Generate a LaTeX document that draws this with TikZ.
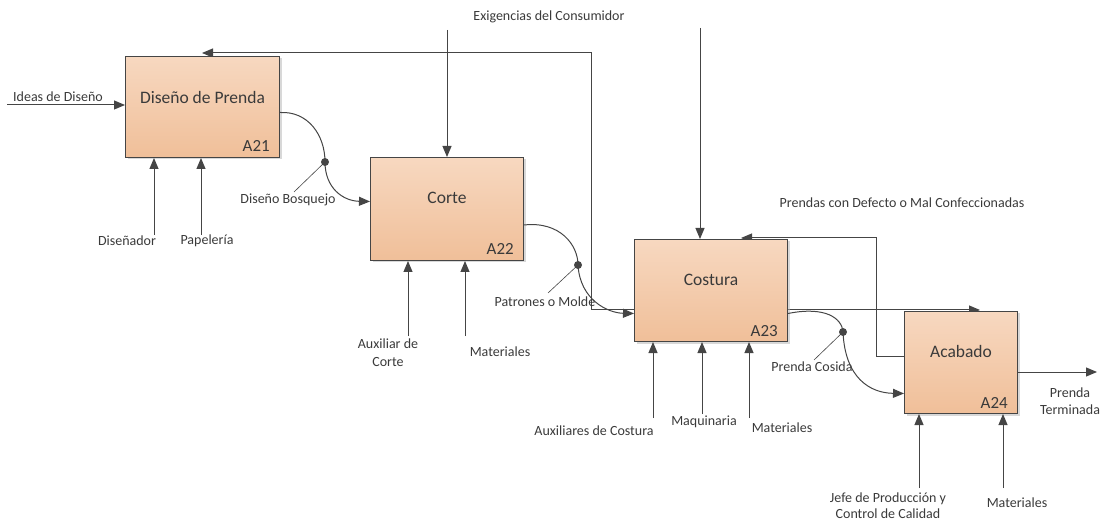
\documentclass[tikz,border=0pt]{standalone}
\usepackage{fontspec}
\setmainfont{Carlito}
\usetikzlibrary{arrows.meta,shadows}
\definecolor{boxtop}{HTML}{F7D8C0}
\definecolor{boxbot}{HTML}{F0BF99}
\definecolor{ln}{HTML}{454545}
\definecolor{txt}{HTML}{3A3A3A}
\pgfdeclarelayer{bg}
\pgfsetlayers{bg,main}
\begin{document}
\begin{tikzpicture}[x=1pt,y=-1pt,
  box/.style={draw=ln, line width=1pt, top color=boxtop, bottom color=boxbot,
    anchor=north west, inner sep=0pt,
    drop shadow={shadow xshift=2pt, shadow yshift=-2pt, fill=black!30, opacity=0.5}},
  ttl/.style={font=\fontsize{17.5}{20}\selectfont, text=txt, inner sep=0pt},
  idl/.style={font=\fontsize{17}{20}\selectfont, text=txt, inner sep=0pt, anchor=base east},
  lbl/.style={font=\fontsize{14}{17}\selectfont, text=txt, inner sep=0pt, align=center},
  arr/.style={draw=ln, line width=1pt, -{Triangle[length=11pt,width=9pt]}},
  lead/.style={draw=ln, line width=0.6pt},
  dotn/.style={circle, fill=ln, inner sep=0pt, minimum size=8pt}]
\useasboundingbox (0,0) rectangle (1103,521);

% boxes
\node[box, minimum width=154pt, minimum height=101pt] (a21) at (125,56) {};
\node[box, minimum width=153pt, minimum height=103pt] (a22) at (370,157) {};
\node[box, minimum width=153pt, minimum height=102pt] (a23) at (634,239) {};
\node[box, minimum width=113pt, minimum height=102pt] (a24) at (904,311) {};

% titles
\node[ttl] (t21) at ([yshift=-41pt]a21.north) {Diseño de Prenda};
\node[ttl] (t22) at ([yshift=-41pt]a22.north) {Corte};
\node[ttl] (t23) at ([yshift=-41pt]a23.north) {Costura};
\node[ttl] (t24) at ([yshift=-40pt]a24.north) {Acabado};
\node[idl] (i21) at ([xshift=-10pt,yshift=6pt]a21.south east) {A21};
\node[idl] (i22) at ([xshift=-10pt,yshift=6pt]a22.south east) {A22};
\node[idl] (i23) at ([xshift=-10pt,yshift=6pt]a23.south east) {A23};
\node[idl] (i24) at ([xshift=-10pt,yshift=6pt]a24.south east) {A24};

% labels
\node[lbl] (lIdeas) at (58,97) {Ideas de Diseño};
\node[lbl] (lExig) at (549,17) {Exigencias del Consumidor};
\node[lbl] (lBosq) at (288,200) {Diseño Bosquejo};
\node[lbl] (lDis) at (127,241) {Diseñador};
\node[lbl] (lPap) at (207,241) {Papelería};
\node[lbl] (lPat) at (545,302) {Patrones o Molde};
\node[lbl, font=\fontsize{14}{18}\selectfont] (lAux) at (388,353) {Auxiliar de\\Corte};
\node[lbl] (lMat1) at (500,352) {Materiales};
\node[lbl] (lDef) at (902,203) {Prendas con Defecto o Mal Confeccionadas};
\node[lbl] (lAuxC) at (594,431) {Auxiliares de Costura};
\node[lbl] (lMaq) at (704,422) {Maquinaria};
\node[lbl] (lMat2) at (782,428) {Materiales};
\node[lbl] (lCos) at (812,367) {Prenda Cosida};
\node[lbl, font=\fontsize{14}{16}\selectfont] (lJefe) at (888,506) {Jefe de Producción y\\Control de Calidad};
\node[lbl] (lMat3) at (1017,503) {Materiales};
\node[lbl, font=\fontsize{14}{17}\selectfont] (lTerm) at (1070,401) {Prenda\\Terminada};

% dots
\node[dotn] (d1) at (325,162) {};
\node[dotn] (d2) at (578,265) {};
\node[dotn] (d3) at (843,332) {};

% coordinates
\coordinate (cIn) at (7,105);
\coordinate (cEx) at (447,30);
\coordinate (cCo) at (700,28);
\coordinate (m1) at (154,235);
\coordinate (m2) at (201,235);
\coordinate (m3) at (408,336);
\coordinate (m4) at (465,336);
\coordinate (m5) at (653,418);
\coordinate (m6) at (702,414);
\coordinate (m7) at (749,418);
\coordinate (m8) at (919,488);
\coordinate (m9) at (1003,488);
\coordinate (cOut) at (1097,372);
\coordinate (fbA) at (591,310);
\coordinate (fbB) at (591,53);
\coordinate (fbC) at (202,53);
\coordinate (fdA) at (876,356);
\coordinate (fdB) at (876,238);
\coordinate (fdC) at (741,238);
\coordinate (caE) at (980,310);

% feedback paths behind boxes
\begin{pgfonlayer}{bg}
\draw[arr] (fbA -| a23.west) -- (fbA) -- (fbB) -- (fbC);
\draw[arr] (fdA -| a24.west) -- (fdA) -- (fdB) -- (fdC);
\draw[arr] (caE -| a23.east) -- (caE);
\end{pgfonlayer}

% inputs / controls / outputs
\draw[arr] (cIn) -- (cIn -| a21.west);
\draw[arr] (cEx) -- (cEx |- a22.north);
\draw[arr] (cCo) -- (cCo |- a23.north);
\draw[arr] (cOut -| a24.east) -- (cOut);

% mechanisms
\draw[arr] (m1) -- (m1 |- a21.south);
\draw[arr] (m2) -- (m2 |- a21.south);
\draw[arr] (m3) -- (m3 |- a22.south);
\draw[arr] (m4) -- (m4 |- a22.south);
\draw[arr] (m5) -- (m5 |- a23.south);
\draw[arr] (m6) -- (m6 |- a23.south);
\draw[arr] (m7) -- (m7 |- a23.south);
\draw[arr] (m8) -- (m8 |- a24.south);
\draw[arr] (m9) -- (m9 |- a24.south);

% curved flows
\draw[arr] ([yshift=-5.5pt]a21.east) .. controls (308,111) and (325,135) .. (d1.center)
  .. controls (325,188) and (343,201) .. ([yshift=7.5pt]a22.west);
\draw[arr] ([yshift=-16pt]a22.east) .. controls (560,221) and (578,245) .. (d2.center)
  .. controls (580,300) and (608,313) .. ([yshift=-23pt]a23.west);
\draw[arr] ([yshift=-23pt]a23.east) .. controls (825,306) and (842,318) .. (d3.center)
  .. controls (845,378) and (870,393) .. ([yshift=-31pt]a24.west);

% leader lines
\draw[lead] (d1.center) -- (294,192);
\draw[lead] (d2.center) -- (548,293);
\draw[lead] (d3.center) -- (814,360);
\end{tikzpicture}
\end{document}
